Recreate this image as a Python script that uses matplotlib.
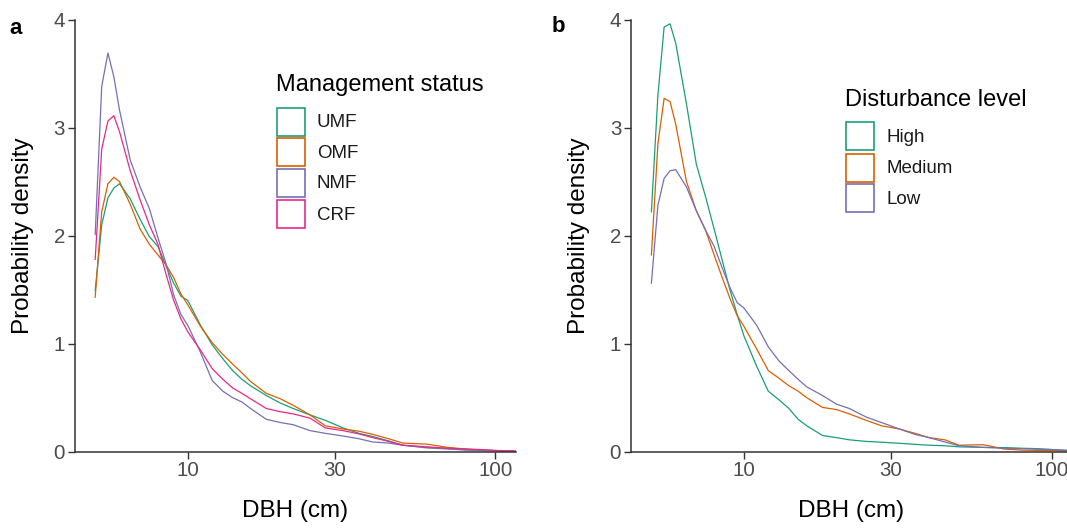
""" DBH probability density by management status and disturbance level """

import matplotlib
matplotlib.use("Agg")
import matplotlib.pyplot as plt
import matplotlib.patches as patches

# DBH grid (cm) shared by every curve
dbh = [5, 5.25, 5.5, 5.75, 6, 6.5, 7, 7.5, 8, 8.5, 9, 9.5, 10, 11, 12, 13,
       14, 15, 16, 18, 20, 22, 25, 28, 32, 36, 40, 45, 50, 60, 70, 80, 90,
       100, 116]

# panel a: management status
umf = [1.49, 2.10, 2.35, 2.44, 2.48, 2.34, 2.15, 1.99, 1.90, 1.72, 1.56, 1.44,
       1.40, 1.17, 0.99, 0.86, 0.75, 0.67, 0.61, 0.52, 0.45, 0.40, 0.34, 0.29,
       0.22, 0.17, 0.14, 0.10, 0.06, 0.04, 0.03, 0.02, 0.015, 0.01, 0.005]
omf = [1.43, 2.22, 2.48, 2.54, 2.50, 2.29, 2.06, 1.92, 1.82, 1.73, 1.61, 1.46,
       1.36, 1.16, 1.01, 0.90, 0.81, 0.73, 0.65, 0.54, 0.49, 0.43, 0.34, 0.24,
       0.21, 0.19, 0.16, 0.12, 0.08, 0.07, 0.04, 0.025, 0.015, 0.01, 0.006]
nmf = [2.01, 3.38, 3.69, 3.47, 3.16, 2.70, 2.45, 2.25, 1.98, 1.74, 1.45, 1.27,
       1.17, 0.92, 0.66, 0.56, 0.50, 0.46, 0.40, 0.30, 0.27, 0.25, 0.195, 0.17,
       0.145, 0.12, 0.09, 0.08, 0.06, 0.035, 0.025, 0.015, 0.01, 0.006, 0.003]
crf = [1.78, 2.80, 3.06, 3.11, 2.96, 2.60, 2.33, 2.10, 1.92, 1.64, 1.40, 1.23,
       1.11, 0.94, 0.77, 0.67, 0.59, 0.54, 0.49, 0.40, 0.37, 0.35, 0.31, 0.22,
       0.195, 0.165, 0.13, 0.095, 0.06, 0.045, 0.032, 0.025, 0.02, 0.012, 0.006]

# panel b: disturbance level
high = [2.22, 3.30, 3.93, 3.96, 3.78, 3.22, 2.66, 2.36, 2.06, 1.77, 1.50, 1.27,
        1.07, 0.79, 0.56, 0.48, 0.40, 0.30, 0.24, 0.15, 0.13, 0.11, 0.095,
        0.088, 0.078, 0.068, 0.06, 0.055, 0.045, 0.04, 0.038, 0.032, 0.028,
        0.02, 0.01]
medium = [1.82, 2.85, 3.27, 3.24, 3.03, 2.50, 2.23, 2.05, 1.82, 1.61, 1.42,
          1.26, 1.16, 0.95, 0.75, 0.68, 0.61, 0.56, 0.50, 0.41, 0.39, 0.35,
          0.29, 0.24, 0.21, 0.17, 0.13, 0.11, 0.06, 0.065, 0.025, 0.015, 0.012,
          0.01, 0.005]
low = [1.56, 2.28, 2.53, 2.60, 2.61, 2.45, 2.23, 2.05, 1.90, 1.70, 1.52, 1.38,
       1.33, 1.17, 0.97, 0.84, 0.75, 0.67, 0.60, 0.52, 0.44, 0.40, 0.32, 0.27,
       0.21, 0.16, 0.13, 0.09, 0.055, 0.04, 0.032, 0.028, 0.023, 0.02, 0.01]

mgmt_labels = ["UMF", "OMF", "NMF", "CRF"]
dist_labels = ["High", "Medium", "Low"]
colors = ["#1B9E77", "#D95F02", "#7570B3", "#E7298A"]

W, H = 1067, 529
plt.rcParams['font.family'] = ['Liberation Sans', 'DejaVu Sans']


def fx(px):
    """ pixel x -> figure fraction """
    return px / W


def fy(py):
    """ pixel y (from top) -> figure fraction """
    return 1 - py / H


def make_axes(fig, left):
    """ Axes with left edge at pixel x """
    ax = fig.add_axes([fx(left), fy(451.7), 441 / W, (451.7 - 19.5) / H])
    ax.set_xscale('log')
    ax.set_xlim(10 ** 0.632, 10 ** 2.066)
    ax.set_ylim(0, 4)
    ax.set_xticks([10, 30, 100])
    ax.set_xticklabels(["10", "30", "100"])
    ax.minorticks_off()
    ax.set_yticks([0, 1, 2, 3, 4])
    ax.set_yticklabels(["0", "1", "2", "3", "4"])
    for side in ['top', 'right']:
        ax.spines[side].set_visible(False)
    for side in ['left', 'bottom']:
        ax.spines[side].set_color('#333333')
        ax.spines[side].set_linewidth(1.1)
    ax.tick_params(length=5, width=1.0, color='#333333', labelsize=14.8,
                   labelcolor='#4D4D4D', pad=2)
    return ax


def add_legend(fig, x0, y_title, y_boxes, title, labels, cols):
    """ Draw a ggplot-like legend with outlined key boxes """
    fig.text(fx(x0), fy(y_title), title, fontsize=17, ha='left',
             va='baseline', color='black')
    for y_top, lab, c in zip(y_boxes, labels, cols):
        fig.add_artist(patches.Rectangle(
            (fx(x0 + 1), fy(y_top + 28)), 28 / W, 28 / H,
            facecolor='white', edgecolor=c, linewidth=1.2,
            transform=fig.transFigure))
        fig.text(fx(x0 + 41), fy(y_top + 15), lab, fontsize=13.5,
                 ha='left', va='center', color='#1A1A1A')


fig = plt.figure(figsize=(W / 100, H / 100), dpi=100)

ax1 = make_axes(fig, 74.6)
for vals, c in zip([umf, omf, nmf, crf], colors):
    ax1.plot(dbh, vals, color=c, lw=0.9, clip_on=True)

ax2 = make_axes(fig, 630.8)
for vals, c in zip([high, medium, low], colors[:3]):
    ax2.plot(dbh, vals, color=c, lw=0.9, clip_on=True)

# axis titles
for xc, yl in [(23.5, (74.6 + 515.6) / 2), (579, (630.8 + 1071.8) / 2)]:
    fig.text(fx(xc), fy(235.6), "Probability density", rotation=90,
             fontsize=17.5, ha='center', va='center')
    fig.text(fx(yl), fy(511), "DBH (cm)", fontsize=17.5,
             ha='center', va='center')

# panel letters
fig.text(fx(9), fy(34), "a", fontsize=16, fontweight='bold', va='baseline')
fig.text(fx(552), fy(32), "b", fontsize=16, fontweight='bold', va='baseline')

add_legend(fig, 276, 91, [107.5, 138, 169, 200], "Management status",
           mgmt_labels, colors)
add_legend(fig, 845, 106.5, [122, 153.5, 184], "Disturbance level",
           dist_labels, colors[:3])

fig.savefig("out.png", dpi=100)
